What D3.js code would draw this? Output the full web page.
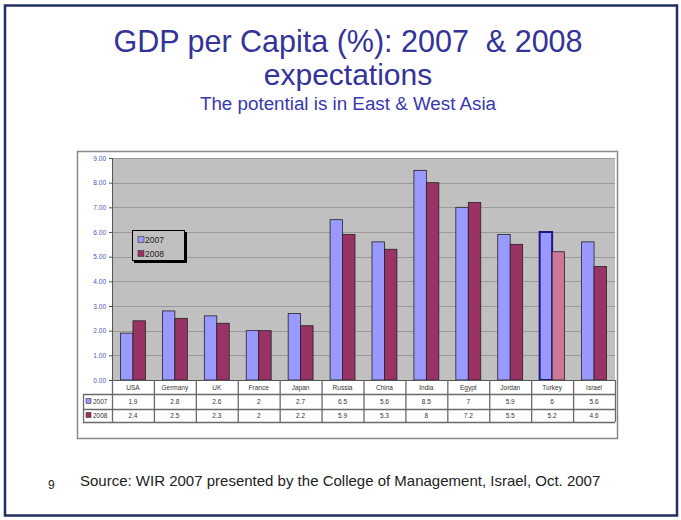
<!DOCTYPE html>
<html>
<head>
<meta charset="utf-8">
<script src="https://cdn.jsdelivr.net/npm/d3@7"></script>
<style>
  html, body { margin: 0; padding: 0; background: #fff; }
  svg { display: block; font-family: Arial, "Liberation Sans", sans-serif; }
  .pre { white-space: pre; }
</style>
</head>
<body>
<svg id="chart" width="681" height="520"></svg>
<script>
// GDP per capita growth, by country
const countries = ["USA", "Germany", "UK", "France", "Japan", "Russia", "China", "India", "Egypt", "Jordan", "Turkey", "Israel"];
const seriesNames = ["2007", "2008"];
const values2007 = [1.9, 2.8, 2.6, 2, 2.7, 6.5, 5.6, 8.5, 7, 5.9, 6, 5.6];
const values2008 = [2.4, 2.5, 2.3, 2, 2.2, 5.9, 5.3, 8, 7.2, 5.5, 5.2, 4.6];
const yTicks = [0, 1, 2, 3, 4, 5, 6, 7, 8, 9];
const highlighted = "Turkey";

const svg = d3.select("#chart");

// slide frame
svg.append("rect").attr("x", 5).attr("y", 5.5).attr("width", 672).attr("height", 510)
  .attr("fill", "#fff").attr("stroke", "#1f3060").attr("stroke-width", 2.5);

// titles
svg.append("text").attr("class", "pre").attr("x", 348).attr("y", 52).attr("text-anchor", "middle")
  .attr("font-size", 30.5).attr("fill", "#333399").text("GDP per Capita (%): 2007  & 2008");
svg.append("text").attr("x", 348).attr("y", 85).attr("text-anchor", "middle")
  .attr("font-size", 30).attr("fill", "#333399").text("expectations");
svg.append("text").attr("x", 348).attr("y", 110).attr("text-anchor", "middle")
  .attr("font-size", 18.8).attr("fill", "#3838b0").text("The potential is in East & West Asia");

// chart area
svg.append("rect").attr("x", 77.5).attr("y", 151.5).attr("width", 540).attr("height", 287)
  .attr("fill", "#fff").attr("stroke", "#8a8a8a").attr("stroke-width", 1.5);

const plot = { left: 112, right: 615, top: 158, bottom: 380 };

const x = d3.scaleBand().domain(countries).range([plot.left, plot.right]);
const x1 = d3.scaleBand().domain(seriesNames).range([8.5, x.bandwidth() - 8.5]);
const y = d3.scaleLinear().domain([0, 9]).range([plot.bottom, plot.top]);

// plot background
svg.append("rect").attr("x", plot.left).attr("y", plot.top)
  .attr("width", plot.right - plot.left).attr("height", plot.bottom - plot.top)
  .attr("fill", "#c0c0c0");

// gridlines
svg.append("g").selectAll("line").data(yTicks.slice(1)).join("line")
  .attr("x1", plot.left).attr("x2", plot.right)
  .attr("y1", d => Math.round(y(d)) + 0.5).attr("y2", d => Math.round(y(d)) + 0.5)
  .attr("stroke", "#9a9a9a").attr("stroke-width", 1.2);

// y axis
const yAxis = svg.append("g").attr("transform", `translate(${plot.left},0)`)
  .call(d3.axisLeft(y).tickValues(yTicks).tickFormat(d3.format(".2f")).tickSize(3).tickPadding(3));
yAxis.select(".domain").attr("stroke", "#555");
yAxis.selectAll(".tick line").attr("stroke", "#555");
yAxis.selectAll(".tick text").attr("font-size", 6.5).attr("fill", "#5050c0")
  .attr("font-family", "Arial, sans-serif");

// bars
const rows = countries.map((c, i) => ({ country: c, "2007": values2007[i], "2008": values2008[i] }));
const fills = { "2007": "#9999ff", "2008": "#993366" };
const hiFills = { "2007": "#9999ff", "2008": "#cc7799" };

const groups = svg.append("g").selectAll("g").data(rows).join("g")
  .attr("transform", d => `translate(${x(d.country)},0)`);
groups.selectAll("rect").data(d => seriesNames.map(s => ({ s, v: d[s], hi: d.country === highlighted })))
  .join("rect")
  .attr("x", d => x1(d.s))
  .attr("y", d => y(d.v))
  .attr("width", x1.bandwidth())
  .attr("height", d => y(0) - y(d.v))
  .attr("fill", d => d.hi ? hiFills[d.s] : fills[d.s])
  .attr("stroke", d => d.hi && d.s === "2007" ? "#1a1a80" : "#222")
  .attr("stroke-width", d => d.hi && d.s === "2007" ? 2 : 0.8);

// x axis baseline
svg.append("line").attr("x1", plot.left).attr("x2", plot.right)
  .attr("y1", plot.bottom + 0.5).attr("y2", plot.bottom + 0.5).attr("stroke", "#555");

// data table
const table = svg.append("g");
const rowY = [380, 394, 409, 422];
const headLeft = 83;
const lineColor = "#6a6a6a";

// horizontal table lines
[394, 409, 422].forEach(yy => {
  table.append("line").attr("x1", headLeft).attr("x2", plot.right)
    .attr("y1", yy + 0.5).attr("y2", yy + 0.5).attr("stroke", lineColor).attr("stroke-width", 1.3);
});
// vertical lines at category boundaries
countries.forEach(c => {
  table.append("line").attr("x1", x(c) + 0.5).attr("x2", x(c) + 0.5)
    .attr("y1", plot.bottom).attr("y2", 422).attr("stroke", lineColor).attr("stroke-width", 1.3);
});
table.append("line").attr("x1", plot.right + 0.5).attr("x2", plot.right + 0.5)
  .attr("y1", plot.bottom).attr("y2", 422).attr("stroke", lineColor).attr("stroke-width", 1.3);
table.append("line").attr("x1", headLeft + 0.5).attr("x2", headLeft + 0.5)
  .attr("y1", 394).attr("y2", 422).attr("stroke", lineColor).attr("stroke-width", 1.3);

// category labels
table.selectAll("text.cat").data(countries).join("text").attr("class", "cat")
  .attr("x", d => x(d) + x.bandwidth() / 2).attr("y", 390)
  .attr("text-anchor", "middle").attr("font-size", 6.5).attr("fill", "#333")
  .text(d => d);

// value rows
const seriesValues = { "2007": values2007, "2008": values2008 };
seriesNames.forEach((s, r) => {
  const cy = (rowY[r + 1] + rowY[r + 2]) / 2;
  table.append("rect").attr("x", 86).attr("y", cy - 3).attr("width", 5).attr("height", 5)
    .attr("fill", fills[s]).attr("stroke", "#333").attr("stroke-width", 0.6);
  table.append("text").attr("x", 93).attr("y", cy + 2.3).attr("font-size", 6.5).attr("fill", "#333").text(s);
  table.selectAll(null).data(seriesValues[s]).join("text")
    .attr("x", (d, i) => x(countries[i]) + x.bandwidth() / 2).attr("y", cy + 2.3)
    .attr("text-anchor", "middle").attr("font-size", 6.5).attr("fill", "#333")
    .text(d => d);
});

// legend
const legend = svg.append("g");
legend.append("rect").attr("x", 134).attr("y", 232).attr("width", 53).attr("height", 31).attr("fill", "#000");
legend.append("rect").attr("x", 132.5).attr("y", 230.5).attr("width", 52).attr("height", 30)
  .attr("fill", "#c0c0c0").attr("stroke", "#000").attr("stroke-width", 1);
seriesNames.forEach((s, i) => {
  const ly = 240 + i * 14;
  legend.append("rect").attr("x", 138).attr("y", ly - 3.5).attr("width", 6).attr("height", 6)
    .attr("fill", fills[s]).attr("stroke", "#333").attr("stroke-width", 0.6);
  legend.append("text").attr("x", 145).attr("y", ly + 3).attr("font-size", 8.5).attr("fill", "#222").text(s);
});

// footer
svg.append("text").attr("x", 48).attr("y", 489).attr("font-size", 12).attr("fill", "#222").text("9");
svg.append("text").attr("x", 80).attr("y", 486).attr("font-size", 15).attr("fill", "#222")
  .text("Source: WIR 2007 presented by the College of Management, Israel, Oct. 2007");
</script>
</body>
</html>
